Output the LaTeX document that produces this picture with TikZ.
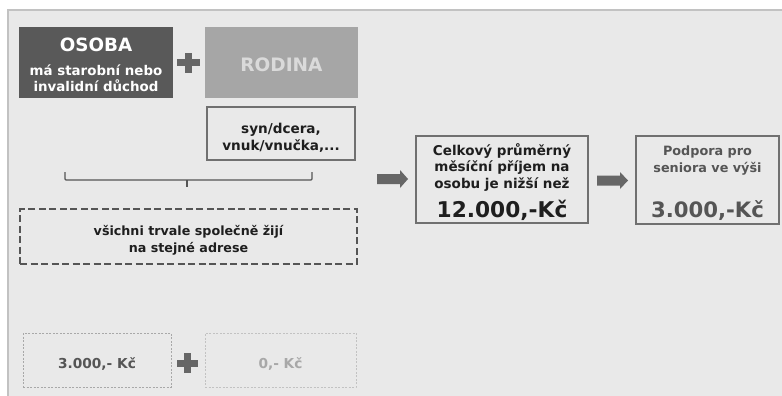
\documentclass[tikz,border=0pt]{standalone}
\usepackage{fontspec}
\setmainfont{DejaVu Sans}
\definecolor{bgc}{HTML}{E9E9E9}
\definecolor{framec}{HTML}{C2C2C2}
\definecolor{darkbox}{HTML}{595959}
\definecolor{midbox}{HTML}{A6A6A6}
\definecolor{rodtext}{HTML}{DADADA}
\definecolor{edgec}{HTML}{707070}
\definecolor{plusc}{HTML}{666666}
\definecolor{txtdark}{HTML}{1E1E1E}
\definecolor{txtgray}{HTML}{555555}
\definecolor{txtlight}{HTML}{A8A8A8}
\tikzset{
  box/.style={inner sep=0pt},
  lbl/.style={inner sep=0pt, anchor=base, font=\bfseries},
}
\newcommand{\fsz}[1]{\fontsize{#1}{#1}\selectfont}
\begin{document}
\begin{tikzpicture}[x=1pt,y=-1pt]
\useasboundingbox (0,0) rectangle (782,396);
\fill[white] (0,0) rectangle (782,396);
\fill[bgc] (8,10) rectangle (782,396);
\draw[framec, line width=2pt] (8,396) -- (8,10) -- (782,10);

% OSOBA
\node[box, fill=darkbox, minimum width=154pt, minimum height=71pt] (osoba) at (96,62.5) {};
\node[lbl, text=white, font=\bfseries\fsz{18.3}] (osobaA) at (96,52) {OSOBA};
\node[lbl, text=white, font=\bfseries\fsz{13.4}] (osobaB) at (96,75) {má starobní nebo};
\node[lbl, text=white, font=\bfseries\fsz{13.4}] (osobaC) at (96,92) {invalidní důchod};
% plus
\fill[plusc] (177,59.5) rectangle (200,66.5);
\fill[plusc] (185,53) rectangle (192,73);
% RODINA
\node[box, fill=midbox, minimum width=153pt, minimum height=71pt] (rodina) at (281.5,62.5) {};
\node[lbl, text=rodtext, font=\bfseries\fsz{18.5}] (rodinaA) at (281.5,72) {RODINA};
% syn/dcera
\node[box, fill=bgc, draw=edgec, line width=2pt, minimum width=148pt, minimum height=53pt] (syn) at (281,133.5) {};
\node[lbl, text=txtdark, font=\bfseries\fsz{13.6}] (synA) at (281,133) {syn/dcera,};
\node[lbl, text=txtdark, font=\bfseries\fsz{13.6}] (synB) at (281,150) {vnuk/vnučka,...};
% brace
\coordinate (bl) at (65,172);
\coordinate (br) at (312,172);
\coordinate (bt) at (187,187);
\draw[txtgray, line width=1.2pt, rounded corners=1pt] (bl) -- (65,180) -- (312,180) -- (br);
\draw[txtgray, line width=1.2pt] (187,180) -- (bt);
% dashed box
\node[box, draw=txtgray, dash pattern=on 7pt off 3.5pt, line width=2pt, minimum width=337pt, minimum height=55pt] (spol) at (188.5,236.5) {};
\node[lbl, text=txtdark, font=\bfseries\fsz{12.7}] (spolA) at (188.5,235) {všichni trvale společně žijí};
\node[lbl, text=txtdark, font=\bfseries\fsz{12.7}] (spolB) at (188.5,252) {na stejné adrese};
% arrows
\fill[plusc] (377,174) -- (400,174) -- (400,170) -- (408,179) -- (400,188) -- (400,184) -- (377,184) -- cycle;
\fill[plusc] (597,175.5) -- (620,175.5) -- (620,172) -- (628,180.5) -- (620,189) -- (620,185.5) -- (597,185.5) -- cycle;
% center box
\node[box, fill=bgc, draw=edgec, line width=2pt, minimum width=172pt, minimum height=87pt] (prijem) at (502,179.5) {};
\node[lbl, text=txtdark, font=\bfseries\fsz{13.5}] (prA) at (502,155) {Celkový průměrný};
\node[lbl, text=txtdark, font=\bfseries\fsz{13.5}] (prB) at (502,171.5) {měsíční příjem na};
\node[lbl, text=txtdark, font=\bfseries\fsz{13.5}] (prC) at (502,188) {osobu je nižší než};
\node[lbl, text=txtdark, font=\bfseries\fsz{21.7}] (prD) at (502,217) {12.000,-Kč};
% right box
\node[box, fill=bgc, draw=edgec, line width=2pt, minimum width=143pt, minimum height=88pt] (podpora) at (707.5,180) {};
\node[lbl, text=txtgray, font=\bfseries\fsz{12.8}] (poA) at (707.5,155) {Podpora pro};
\node[lbl, text=txtgray, font=\bfseries\fsz{12.8}] (poB) at (707.5,172) {seniora ve výši};
\node[lbl, text=txtgray, font=\bfseries\fsz{21.2}] (poC) at (707.5,217) {3.000,-Kč};
% bottom boxes
\node[box, draw=txtlight, dash pattern=on 2pt off 1.5pt, line width=0.8pt, minimum width=148pt, minimum height=54pt] (b1) at (97,360) {};
\node[lbl, text=txtgray, font=\bfseries\fsz{13.7}] (b1t) at (97,368) {3.000,- Kč};
\fill[plusc] (177,359.5) rectangle (198,366.5);
\fill[plusc] (184,353) rectangle (191,373);
\node[box, draw=framec, dash pattern=on 2pt off 1.5pt, line width=0.8pt, minimum width=151pt, minimum height=54pt] (b2) at (280.5,360) {};
\node[lbl, text=txtlight, font=\bfseries\fsz{13.7}] (b2t) at (280.5,368) {0,- Kč};
\end{tikzpicture}
\end{document}
